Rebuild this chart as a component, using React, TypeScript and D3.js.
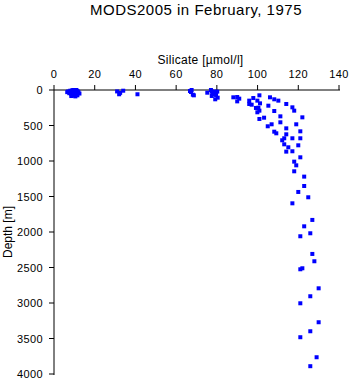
import React from "react";
import * as d3 from "d3";

const title = "MODS2005 in February, 1975";
const xLabel = "Silicate [µmol/l]";
const yLabel = "Depth [m]";
const xTicks = [0, 20, 40, 60, 80, 100, 120, 140];
const yTicks = [0, 500, 1000, 1500, 2000, 2500, 3000, 3500, 4000];

// silicate (µmol/l) and depth (m) of each observation
const silicate = [
  6.5, 7, 7.5, 8, 8.5, 9, 9.5, 10, 10.5, 11, 11.5, 12, 12.5, 8.5, 9.5, 10.5, 11.5, 9, 10, 11, 10, 9.5, 11,
  31, 32, 32.5, 34, 41,
  66.8, 67.6, 67.3, 68.2, 68.7,
  75.3, 77.1, 77.5, 78.3, 79.1, 79.6, 80.2, 79.2, 80.4, 77.5, 77.9,
  88.1, 90.0, 91.0, 90.0, 95.9, 97.9, 95.9, 97.1, 99.9, 100.9, 101.2, 99.2, 100.4, 100.9, 99.9, 100.9,
  103.2, 105.0, 106.9, 106.1, 108.2, 110.2, 105.3, 108.2, 111.2, 111.2, 114.1, 117.1, 118.0, 122.0,
  119.0, 114.1, 108.2, 109.2, 114.1, 113.1, 112.1, 117.1, 121.0, 121.0, 113.1, 115.1, 120.0, 114.1,
  117.1, 121.0, 118.0, 119.0, 118.0, 122.9, 122.9, 120.0, 124.9, 117.1, 126.9, 122.9,
  125.9, 121.0, 126.9, 127.9, 122.0, 121.0, 130.0, 125.9, 121.0, 130.0, 125.9, 121.0, 129.0, 125.9,
];
const depth = [
  30, 20, 45, 10, 60, 35, 80, 20, 55, 40, 15, 30, 50, 85, 70, 90, 75, 5, 40, 25, 60, 0, 0,
  20, 60, 40, 10, 60,
  14, 0, 28, 66, 75,
  38, 0, 23, 47, 23, 70, 23, 131, 108, 84, 56,
  103, 99, 122, 160, 150, 113, 197, 207, 150, 75, 188, 253, 249, 291, 314, 408,
  390, 511, 483, 103, 131, 150, 221, 296, 371, 455, 197, 244, 291, 385,
  483, 540, 587, 610, 624, 680, 708, 680, 582, 680, 765, 807, 779, 868,
  863, 948, 1009, 1061, 1145, 1220, 1352, 1436, 1511, 1596, 1830, 1920,
  2018, 2060, 2309, 2412, 2511, 2525, 2793, 2905, 3004, 3271, 3398, 3482, 3764, 3890,
];

const W = 351;
const H = 384;
const left = 54;
const top = 90;
const right = 339;
const bottom = 374;

export default function App() {
  const x = d3.scaleLinear().domain([0, 140]).range([left, right]);
  const y = d3.scaleLinear().domain([0, 4000]).range([top, bottom]);
  const font = "'Liberation Sans', Arial, Helvetica, sans-serif";
  const ms = 4;
  return (
    <svg
      width={W}
      height={H}
      style={{ position: "absolute", left: 0, top: 0, background: "#fff" }}
      fontFamily={font}
    >
      <text x={196} y={15} fontSize={15} letterSpacing={0.5} textAnchor="middle" fill="#000">
        {title}
      </text>
      <text x={x(70) + 4} y={64} fontSize={12} letterSpacing={0.3} textAnchor="middle" fill="#000">
        {xLabel}
      </text>
      <text
        transform={`translate(12,${y(2000)}) rotate(-90)`}
        fontSize={12}
        textAnchor="middle"
        fill="#000"
      >
        {yLabel}
      </text>
      <line x1={left} x2={right + 1} y1={top} y2={top} stroke="#000" strokeWidth={1} />
      <line x1={left} x2={left} y1={top} y2={bottom + 1} stroke="#000" strokeWidth={1} />
      {xTicks.map((t) => (
        <g key={"x" + t}>
          <line x1={x(t)} x2={x(t)} y1={top} y2={top - 5} stroke="#000" />
          <text x={x(t)} y={top - 12} fontSize={11} letterSpacing={0.4} textAnchor="middle" fill="#000">
            {t}
          </text>
        </g>
      ))}
      {yTicks.map((t) => (
        <g key={"y" + t}>
          <line x1={left} x2={left - 5} y1={y(t)} y2={y(t)} stroke="#000" />
          <text x={left - 11} y={y(t) + 4} fontSize={11} letterSpacing={0.4} textAnchor="end" fill="#000">
            {t}
          </text>
        </g>
      ))}
      {silicate.map((s, i) => (
        <rect
          key={i}
          x={x(s) - ms / 2}
          y={y(depth[i]) - ms / 2}
          width={ms}
          height={ms}
          fill="#0000ff"
        />
      ))}
    </svg>
  );
}
